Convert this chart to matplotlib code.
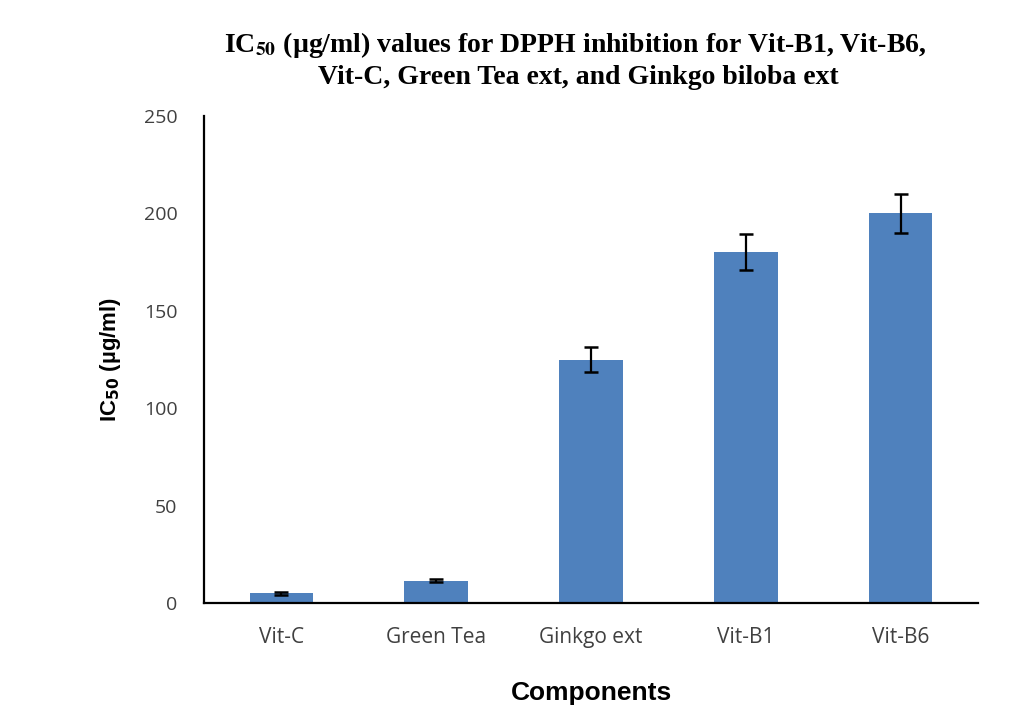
import numpy as np
import matplotlib.pyplot as plt

# IC50 values
components = ['Vit-C', 'Green Tea', 'Ginkgo ext', 'Vit-B1', 'Vit-B6']
ic50 = [5, 11.5, 125, 180, 200]
ic50_err = [0.7, 0.7, 6.5, 9.3, 10]
y_ticks = [0, 50, 100, 150, 200, 250]

bar_color = '#4F81BD'
tick_color = '#404040'

fig = plt.figure(figsize=(10.31, 7.26), dpi=100)
ax = fig.add_axes([204 / 1031, 1 - 603 / 726, 774 / 1031, 487 / 726])

x = np.arange(len(components))
ax.bar(x, ic50, width=0.41, color=bar_color, zorder=2)
ax.errorbar(x, ic50, yerr=ic50_err, fmt='none', ecolor='black',
            elinewidth=1.6, capsize=5, capthick=1.8, zorder=3)

ax.set_xlim(-0.5, len(components) - 0.5)
ax.set_ylim(0, 250)
ax.set_yticks(y_ticks)
ax.set_xticks(x)
ax.set_xticklabels(components)

for spine in ['top', 'right']:
    ax.spines[spine].set_visible(False)
ax.spines['left'].set_linewidth(1.6)
ax.spines['bottom'].set_linewidth(1.6)
ax.tick_params(axis='both', length=0, labelcolor=tick_color)
ax.tick_params(axis='y', pad=19, labelsize=14)
ax.tick_params(axis='x', pad=17, labelsize=15)
for lab in ax.get_xticklabels() + ax.get_yticklabels():
    lab.set_fontfamily('Open Sans')

ax.set_ylabel(r'IC$_{\mathbf{50}}$ (µg/ml)', fontsize=16, fontweight='bold',
              family='Liberation Sans', math_fontfamily='dejavusans', labelpad=15)
ax.set_xlabel('Components', fontsize=19, fontweight='bold',
              family='Liberation Sans', labelpad=24)

fig.text(575 / 1031, 1 - 45 / 726,
         r'IC$_{\mathbf{50}}$ (µg/ml) values for DPPH inhibition for Vit-B1, Vit-B6,',
         ha='center', va='center', fontsize=20, fontweight='bold',
         family='Liberation Serif', math_fontfamily='stix')
fig.text(578 / 1031, 1 - 77 / 726,
         'Vit-C, Green Tea ext, and Ginkgo biloba ext',
         ha='center', va='center', fontsize=20, fontweight='bold',
         family='Liberation Serif')

fig.savefig('out.png', dpi=100)
